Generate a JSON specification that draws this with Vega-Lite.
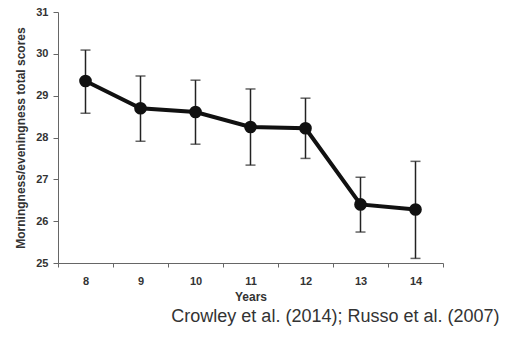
{
  "$schema": "https://vega.github.io/schema/vega-lite/v6.json",
  "width": 385,
  "height": 251,
  "autosize": {"type": "none"},
  "padding": {"left": 58, "top": 12, "right": 62, "bottom": 76},
  "background": "white",
  "config": {"view": {"stroke": null}, "font": "Liberation Sans"},
  "data": {"values": [
    {"year": "8", "mean": 29.35, "lo": 28.58, "hi": 30.09},
    {"year": "9", "mean": 28.70, "lo": 27.91, "hi": 29.47},
    {"year": "10", "mean": 28.61, "lo": 27.84, "hi": 29.37},
    {"year": "11", "mean": 28.25, "lo": 27.34, "hi": 29.16},
    {"year": "12", "mean": 28.22, "lo": 27.50, "hi": 28.94},
    {"year": "13", "mean": 26.40, "lo": 25.74, "hi": 27.05},
    {"year": "14", "mean": 26.28, "lo": 25.11, "hi": 27.43}
  ]},
  "title": {
    "text": "Crowley et al. (2014); Russo et al. (2007)",
    "orient": "bottom",
    "anchor": "end",
    "fontSize": 18,
    "fontWeight": "normal",
    "color": "#333333",
    "offset": 6,
    "dx": 56
  },
  "encoding": {
    "x": {
      "field": "year", "type": "ordinal", "sort": null,
      "scale": {"paddingInner": 0, "paddingOuter": 0},
      "axis": {
        "title": "Years", "labelAngle": 0, "tickBand": "extent",
        "labelFont": "Liberation Sans", "labelFontWeight": "bold", "labelFontSize": 11, "labelColor": "#333333",
        "titleFontWeight": "bold", "titleFontSize": 12, "titleColor": "#333333",
        "domainColor": "#666666", "tickColor": "#666666", "tickSize": 4,
        "labelPadding": 8, "titlePadding": 5, "grid": false
      }
    }
  },
  "layer": [
    {
      "mark": {"type": "errorbar", "ticks": {"size": 10, "thickness": 1.5, "color": "#222222"}, "thickness": 1.5, "color": "#222222"},
      "encoding": {
        "y": {"field": "lo", "type": "quantitative",
          "scale": {"domain": [25, 31], "nice": false, "zero": false},
          "axis": {
            "title": "Morningness/eveningness total scores", "values": [25, 26, 27, 28, 29, 30, 31],
            "labelFontWeight": "bold", "labelFontSize": 11, "labelColor": "#333333",
            "titleFontWeight": "bold", "titleFontSize": 12, "titleColor": "#333333",
            "domainColor": "#666666", "tickColor": "#666666", "tickSize": 5,
            "labelPadding": 5, "titlePadding": 8, "grid": false
          }},
        "y2": {"field": "hi"}
      }
    },
    {
      "mark": {"type": "line", "color": "#111111", "strokeWidth": 4},
      "encoding": {"y": {"field": "mean", "type": "quantitative"}}
    },
    {
      "mark": {"type": "point", "filled": true, "color": "#111111", "opacity": 1, "size": 160},
      "encoding": {"y": {"field": "mean", "type": "quantitative"}}
    }
  ]
}
